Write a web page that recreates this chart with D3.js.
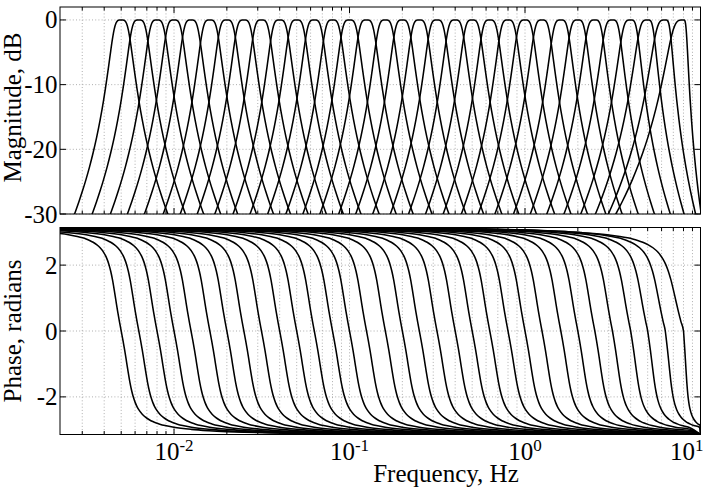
<!DOCTYPE html>
<html>
<head>
<meta charset="utf-8">
<script src="https://cdn.jsdelivr.net/npm/d3@7"></script>
<style>
  html, body { margin: 0; padding: 0; background: #fff; }
  svg { display: block; }
  text { font-family: "Liberation Serif", "Times New Roman", "DejaVu Serif", serif; fill: #000; }
</style>
</head>
<body>
<svg id="chart" width="720" height="487"></svg>
<script>
// ---------------- data ----------------
// 1/3-octave band centre frequencies (Hz), one band per curve
const centerFreqsHz = [0.005, 0.0063, 0.008, 0.01, 0.0125, 0.016, 0.02, 0.025, 0.0315, 0.04,
                       0.05, 0.063, 0.08, 0.1, 0.125, 0.16, 0.2, 0.25, 0.315, 0.4,
                       0.5, 0.63, 0.8, 1, 1.25, 1.6, 2, 2.5, 3.15, 4,
                       5, 6.3, 8];
// how much wider (low side) / narrower (high side) each band's skirts look vs. the common shape
const lowSkirtStretch  = [1,1,1,1,1,1,1,1,1,1, 1,1,1,1,1,1,1,1,1,1, 1,1,1,
                          1.005, 1.01, 1.015, 1.02, 1.03, 1.04, 1.07, 1.12, 1.22, 1.45];
const highSkirtStretch = [1,1,1,1,1,1,1,1,1,1, 1,1,1,1,1,1,1,1,1,1, 1,1,1,
                          0.985, 0.975, 0.965, 0.95, 0.93, 0.90, 0.85, 0.78, 0.65, 0.38];
// common band shape: offset from centre (decades, high side) -> magnitude (dB), mirrored on the low side
const magOffsetDec = [0, 0.01, 0.02, 0.03, 0.04, 0.05, 0.06, 0.07, 0.08, 0.09, 0.10,
                      0.12, 0.14, 0.16, 0.18, 0.20, 0.22, 0.24, 0.26, 0.28, 0.32, 0.36, 0.40];
const magDb = [0, -0.007, -0.107, -0.519, -1.469, -2.979, -4.845, -6.830, -8.779, -10.627, -12.354,
               -15.453, -18.152, -20.534, -22.670, -24.606, -26.384, -28.030, -29.568, -31.015, -33.70, -36.14, -38.41];
// common band shape: offset from centre (decades, high side) -> phase (rad), sign flipped on the low side
const phaseOffsetDec = [0, 0.01, 0.02, 0.03, 0.04, 0.05, 0.06, 0.07, 0.08, 0.09, 0.10,
                        0.12, 0.14, 0.16, 0.18, 0.20, 0.22, 0.25, 0.30, 0.40, 0.50, 0.60, 0.70, 0.85,
                        1.0, 1.25, 1.5, 2.0, 2.5, 3.0, 3.8];
const phaseRad = [0, -0.285, -0.589, -0.919, -1.257, -1.566, -1.821, -2.021, -2.174, -2.293, -2.388,
                  -2.527, -2.623, -2.694, -2.749, -2.792, -2.827, -2.869, -2.921, -2.986, -3.026, -3.054, -3.074, -3.094,
                  -3.109, -3.123, -3.131, -3.138, -3.1406, -3.1413, -3.1415];
const nyquistHz = 10;
const nyquistPhaseRad = -Math.PI;

const freqDomainHz = [0.00224, 10];
const magDomainDb = [-30, 2];
const phaseDomainRad = [-Math.PI, Math.PI];
const xMajorTicks = [0.01, 0.1, 1, 10];
const magTicks = [0, -10, -20, -30];
const phaseTicks = [-2, 0, 2];
const magTickLabels = ["0", "-10", "-20", "-30"];
const phaseTickLabels = ["-2", "0", "2"];
const xLabel = "Frequency, Hz";
const magLabel = "Magnitude, dB";
const phaseLabel = "Phase, radians";

// ---------------- drawing ----------------
const svg = d3.select("#chart");
const left = 60, right = 700.5;
const x = d3.scaleLog().domain(freqDomainHz).range([left, right]);
const yMag = d3.scaleLinear().domain(magDomainDb).range([214, 7]);
const yPh = d3.scaleLinear().domain(phaseDomainRad).range([434.5, 227.5]);

const panels = [
  { id: "mag", y: yMag, ticks: magTicks, labels: magTickLabels },
  { id: "ph", y: yPh, ticks: phaseTicks, labels: phaseTickLabels }
];

const defs = svg.append("defs");
panels.forEach(p => {
  const [b, t] = p.y.range();
  defs.append("clipPath").attr("id", "clip-" + p.id)
    .append("rect").attr("x", left).attr("y", t).attr("width", right - left).attr("height", b - t);
});

const minorVals = x.ticks().filter(v => v > freqDomainHz[0] && v < freqDomainHz[1]);

// grids
panels.forEach(p => {
  const [b, t] = p.y.range();
  const g = svg.append("g").attr("stroke", "#9a9a9a").attr("stroke-width", 0.8)
    .attr("stroke-dasharray", "1,2.2").attr("fill", "none");
  minorVals.forEach(v => {
    g.append("line").attr("x1", x(v)).attr("x2", x(v)).attr("y1", t).attr("y2", b);
  });
  p.ticks.forEach(v => {
    g.append("line").attr("x1", left).attr("x2", right).attr("y1", p.y(v)).attr("y2", p.y(v));
  });
});

function bandPoints(offsets, values, flipLow, fc, L, R) {
  const pts = [];
  for (let i = offsets.length - 1; i > 0; i--) {
    pts.push({ f: fc * Math.pow(10, -offsets[i] * L), v: flipLow ? -values[i] : values[i] });
  }
  for (let i = 0; i < offsets.length; i++) {
    pts.push({ f: fc * Math.pow(10, offsets[i] * R), v: values[i] });
  }
  return pts;
}

// magnitude curves
const magLine = d3.line().x(d => x(d.f)).y(d => yMag(d.v)).curve(d3.curveMonotoneX);
const gMag = svg.append("g").attr("clip-path", "url(#clip-mag)");
centerFreqsHz.forEach((fc, i) => {
  const pts = bandPoints(magOffsetDec, magDb, false, fc, lowSkirtStretch[i], highSkirtStretch[i]);
  gMag.append("path").attr("d", magLine(pts)).attr("fill", "none")
    .attr("stroke", "#000").attr("stroke-width", 1.55);
});

// phase curves
const phLine = d3.line().x(d => x(d.f)).y(d => yPh(d.v)).curve(d3.curveMonotoneX);
const gPh = svg.append("g").attr("clip-path", "url(#clip-ph)");
centerFreqsHz.forEach((fc, i) => {
  let pts = bandPoints(phaseOffsetDec, phaseRad, true, fc, lowSkirtStretch[i], highSkirtStretch[i]);
  pts = pts.filter(p => p.f < nyquistHz);
  pts.push({ f: nyquistHz, v: nyquistPhaseRad });
  gPh.append("path").attr("d", phLine(pts)).attr("fill", "none")
    .attr("stroke", "#000").attr("stroke-width", 1.55);
});

// frames and ticks (inside, on all sides)
panels.forEach(p => {
  const [b, t] = p.y.range();
  const g = svg.append("g").attr("stroke", "#000").attr("stroke-width", 1).attr("fill", "none");
  g.append("rect").attr("x", left).attr("y", t).attr("width", right - left).attr("height", b - t);
  minorVals.forEach(v => {
    const major = xMajorTicks.includes(v);
    const len = major ? 6 : 3.5;
    g.append("line").attr("x1", x(v)).attr("x2", x(v)).attr("y1", b).attr("y2", b - len);
    g.append("line").attr("x1", x(v)).attr("x2", x(v)).attr("y1", t).attr("y2", t + len);
  });
  p.ticks.forEach(v => {
    g.append("line").attr("x1", left).attr("x2", left + 6).attr("y1", p.y(v)).attr("y2", p.y(v));
    g.append("line").attr("x1", right).attr("x2", right - 6).attr("y1", p.y(v)).attr("y2", p.y(v));
  });
  // y tick labels
  p.ticks.forEach((v, i) => {
    svg.append("text").attr("x", 57.5).attr("y", p.y(v) + 8.5)
      .attr("text-anchor", "end").attr("font-size", 25).text(p.labels[i]);
  });
});

// x tick labels (bottom panel only)
xMajorTicks.forEach((v, i) => {
  const e = Math.round(Math.log10(v));
  const last = i === xMajorTicks.length - 1;
  const t = svg.append("text").attr("y", 459.5).attr("font-size", 25)
    .attr("x", last ? x(v) + 3 : x(v)).attr("text-anchor", last ? "end" : "middle");
  t.append("tspan").text("10");
  t.append("tspan").attr("dy", -9).attr("font-size", 17).text(String(e));
});

// axis labels
svg.append("text").attr("x", 446).attr("y", 481.5).attr("text-anchor", "middle")
  .attr("font-size", 25).text(xLabel);
svg.append("text").attr("transform", "translate(21," + ((yMag.range()[0] + yMag.range()[1]) / 2 - 3) + ") rotate(-90)")
  .attr("text-anchor", "middle").attr("font-size", 25).text(magLabel);
svg.append("text").attr("transform", "translate(21," + ((yPh.range()[0] + yPh.range()[1]) / 2) + ") rotate(-90)")
  .attr("text-anchor", "middle").attr("font-size", 25).text(phaseLabel);
</script>
</body>
</html>
